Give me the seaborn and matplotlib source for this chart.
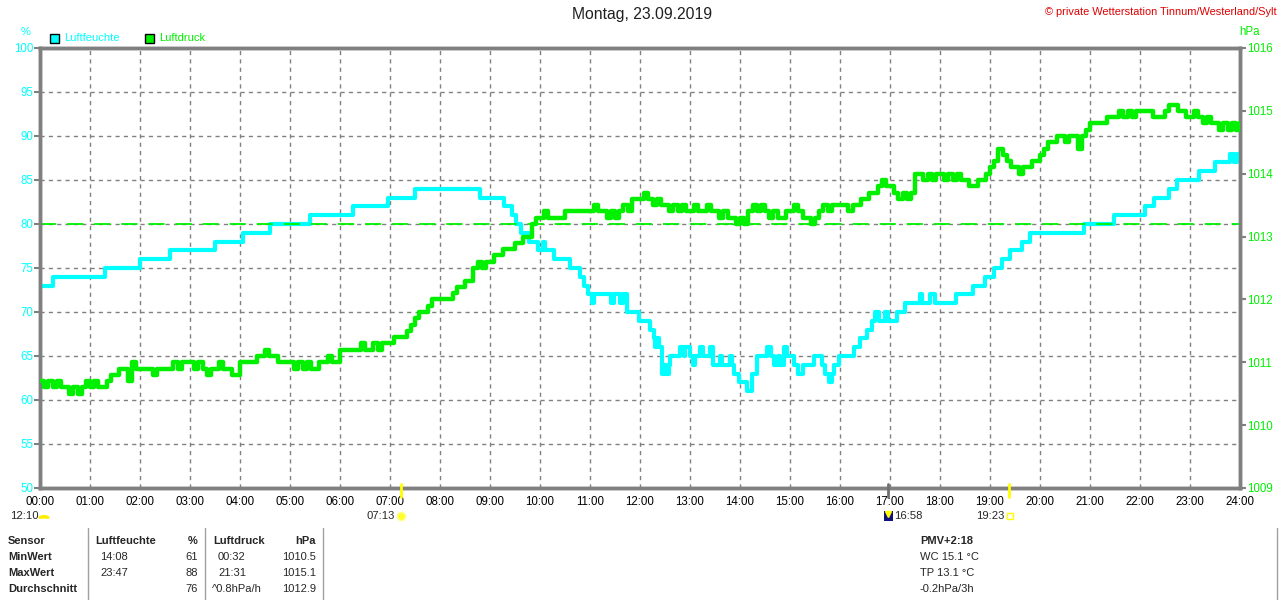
import numpy as np
import pandas as pd
import matplotlib
matplotlib.use("Agg")
import matplotlib.pyplot as plt
import seaborn as sns

# ---------------- data ----------------
hours = list(range(25))
hour_labels = [f"{h:02d}:00" for h in hours]

hum_times = [0, 0.25, 1.3, 2.0, 2.6, 3.5, 4.05, 4.6, 5.4, 6.25, 6.95, 7.5, 8.8, 9.27, 9.43,
             9.52, 9.62, 9.78, 9.95, 10.05, 10.1, 10.28, 10.6, 10.8, 10.88, 10.95, 11.03,
             11.07, 11.42, 11.47, 11.6, 11.65, 11.73, 11.97, 12.2, 12.27, 12.3, 12.33, 12.37,
             12.43, 12.48, 12.52, 12.57, 12.6, 12.8, 12.87, 12.9, 13.0, 13.05, 13.1, 13.2,
             13.25, 13.4, 13.45, 13.6, 13.63, 13.8, 13.83, 13.87, 13.97, 14.13, 14.23, 14.33,
             14.53, 14.62, 14.67, 14.75, 14.8, 14.87, 14.93, 15.07, 15.15, 15.25, 15.47,
             15.63, 15.7, 15.78, 15.83, 15.87, 15.97, 16.27, 16.4, 16.53, 16.63, 16.7, 16.77,
             16.9, 16.95, 17.13, 17.3, 17.6, 17.65, 17.8, 17.9, 18.33, 18.66, 18.9, 19.07,
             19.23, 19.4, 19.63, 19.8, 20.87, 21.47, 22.1, 22.27, 22.57, 22.73, 23.17, 23.5,
             23.8, 23.87, 23.93, 24.0]
hum_values = [73, 74, 75, 76, 77, 78, 79, 80, 81, 82, 83, 84, 83, 82, 81,
              80, 79, 78, 77, 78, 77, 76, 75, 74, 73, 72, 71,
              72, 71, 72, 71, 72, 70, 69, 68, 67, 66, 67, 66,
              63, 64, 63, 64, 65, 66, 65, 66, 65, 64, 65, 66,
              65, 66, 64, 65, 64, 65, 64, 63, 62, 61, 63, 65,
              66, 65, 64, 65, 64, 66, 65, 64, 63, 64, 65,
              64, 63, 62, 63, 64, 65, 66, 67, 68, 69, 70, 69,
              70, 69, 70, 71, 72, 71, 72, 71, 72, 73, 74, 75,
              76, 77, 78, 79, 80, 81, 82, 83, 84, 85, 86, 87,
              88, 87, 88, 88]

# pressure, 5-minute readings (hPa), 00:00 .. 24:00
press_values = [
    1010.7, 1010.6, 1010.7, 1010.6, 1010.7, 1010.6, 1010.6, 1010.5, 1010.6, 1010.5, 1010.6, 1010.7,
    1010.6, 1010.7, 1010.6, 1010.6, 1010.7, 1010.8, 1010.8, 1010.9, 1010.9, 1010.7, 1011.0, 1010.9,
    1010.9, 1010.9, 1010.9, 1010.8, 1010.9, 1010.9, 1010.9, 1010.9, 1011.0, 1010.9, 1011.0, 1011.0,
    1011.0, 1010.9, 1011.0, 1010.9, 1010.8, 1010.9, 1010.9, 1011.0, 1010.9, 1010.9, 1010.8, 1010.8,
    1011.0, 1011.0, 1011.0, 1011.0, 1011.1, 1011.1, 1011.2, 1011.1, 1011.1, 1011.0, 1011.0, 1011.0,
    1011.0, 1010.9, 1011.0, 1010.9, 1011.0, 1010.9, 1010.9, 1011.0, 1011.0, 1011.1, 1011.0, 1011.0,
    1011.2, 1011.2, 1011.2, 1011.2, 1011.2, 1011.3, 1011.2, 1011.2, 1011.3, 1011.2, 1011.3, 1011.3,
    1011.3, 1011.4, 1011.4, 1011.4, 1011.5, 1011.6, 1011.7, 1011.8, 1011.8, 1011.9, 1012.0, 1012.0,
    1012.0, 1012.0, 1012.0, 1012.1, 1012.2, 1012.2, 1012.3, 1012.3, 1012.5, 1012.6, 1012.5, 1012.6,
    1012.6, 1012.7, 1012.7, 1012.8, 1012.8, 1012.8, 1012.9, 1012.9, 1013.0, 1013.0, 1013.2, 1013.3,
    1013.3, 1013.4, 1013.3, 1013.3, 1013.3, 1013.3, 1013.4, 1013.4, 1013.4, 1013.4, 1013.4, 1013.4,
    1013.4, 1013.5, 1013.4, 1013.4, 1013.3, 1013.4, 1013.3, 1013.4, 1013.5, 1013.4, 1013.6, 1013.6,
    1013.6, 1013.7, 1013.6, 1013.5, 1013.6, 1013.5, 1013.5, 1013.4, 1013.5, 1013.4, 1013.5, 1013.4,
    1013.4, 1013.5, 1013.4, 1013.4, 1013.5, 1013.4, 1013.4, 1013.3, 1013.4, 1013.3, 1013.3, 1013.2,
    1013.3, 1013.2, 1013.4, 1013.5, 1013.4, 1013.5, 1013.4, 1013.3, 1013.4, 1013.3, 1013.3, 1013.4,
    1013.4, 1013.5, 1013.4, 1013.3, 1013.3, 1013.2, 1013.3, 1013.4, 1013.5, 1013.4, 1013.5, 1013.5,
    1013.5, 1013.5, 1013.4, 1013.5, 1013.5, 1013.6, 1013.6, 1013.7, 1013.7, 1013.8, 1013.9, 1013.8,
    1013.8, 1013.7, 1013.6, 1013.7, 1013.6, 1013.7, 1014.0, 1014.0, 1013.9, 1014.0, 1013.9, 1014.0,
    1014.0, 1013.9, 1014.0, 1013.9, 1014.0, 1013.9, 1013.9, 1013.8, 1013.8, 1013.9, 1013.9, 1014.0,
    1014.1, 1014.2, 1014.4, 1014.3, 1014.2, 1014.1, 1014.1, 1014.0, 1014.1, 1014.1, 1014.2, 1014.2,
    1014.3, 1014.4, 1014.5, 1014.5, 1014.6, 1014.6, 1014.5, 1014.6, 1014.6, 1014.4, 1014.6, 1014.7,
    1014.8, 1014.8, 1014.8, 1014.8, 1014.9, 1014.9, 1014.9, 1015.0, 1014.9, 1015.0, 1014.9, 1015.0,
    1015.0, 1015.0, 1015.0, 1014.9, 1014.9, 1014.9, 1015.0, 1015.1, 1015.1, 1015.0, 1015.0, 1014.9,
    1014.9, 1015.0, 1014.9, 1014.8, 1014.9, 1014.8, 1014.8, 1014.7, 1014.8, 1014.7, 1014.8, 1014.7,
    1014.8]
press_times = [i / 12 for i in range(len(press_values))]

reference_pressure = 1013.2

hum_ticks = [50, 55, 60, 65, 70, 75, 80, 85, 90, 95, 100]
press_ticks = [1009, 1010, 1011, 1012, 1013, 1014, 1015, 1016]

table_rows = ["Sensor", "MinWert", "MaxWert", "Durchschnitt"]
hum_col = ["", "14:08", "23:47", ""]
hum_val = ["%", "61", "88", "76"]
press_col = ["", "00:32", "21:31", "^0.8hPa/h"]
press_val = ["hPa", "1010.5", "1015.1", "1012.9"]
extra_lines = ["PMV+2:18", "WC 15.1 °C", "TP 13.1 °C", "-0.2hPa/3h"]

# ---------------- style ----------------
sns.set_style("white")
plt.rcParams['font.family'] = ['Liberation Sans', 'DejaVu Sans']
plt.rcParams['font.size'] = 8

CYAN = "#00ffff"
GREEN = "#00f000"
GRAY = "#808080"

W, H = 1280, 600
fig = plt.figure(figsize=(W / 100, H / 100), dpi=100)
L, R, T, B = 40, 1240, 48, 488
ax = fig.add_axes([L / W, 1 - B / H, (R - L) / W, (B - T) / H])
ax2 = ax.twinx()

def P(x, y):
    return (x / W, 1 - y / H)

hum_df = pd.DataFrame({"t": hum_times, "v": hum_values})
press_df = pd.DataFrame({"t": press_times, "v": press_values})

sns.lineplot(data=hum_df, x="t", y="v", ax=ax, color=CYAN, lw=3,
             drawstyle="steps-post", estimator=None, sort=False, zorder=3)
sns.lineplot(data=press_df, x="t", y="v", ax=ax2, color=GREEN, lw=3.2,
             drawstyle="steps-post", estimator=None, sort=False, zorder=3)
ax2.axhline(reference_pressure, color=GREEN, lw=1.3, dashes=(9, 6), zorder=2)

ax.set_xlim(0, 24)
ax.set_ylim(50, 100)
ax2.set_ylim(1009, 1016)
ax.set_xticks(hours)
ax.set_xticklabels(hour_labels)
ax.set_yticks(hum_ticks)
ax.set_yticklabels([str(v) for v in hum_ticks])
ax2.set_yticks(press_ticks)
ax2.set_yticklabels([str(v) for v in press_ticks])
for a in (ax, ax2):
    a.set_xlabel("")
    a.set_ylabel("")

ax.grid(True, color=GRAY, ls=(0, (3, 3)), lw=1)
ax.set_axisbelow(True)
for a in (ax, ax2):
    for s in a.spines.values():
        s.set_color(GRAY)
        s.set_linewidth(2.5)

ax.tick_params(axis="x", length=0, pad=6, labelsize=8.3, colors="black")
ax.tick_params(axis="y", length=4, width=1.5, color=GRAY, labelcolor=CYAN, pad=1, labelsize=8.3)
ax2.tick_params(axis="y", length=4, width=1.5, color=GRAY, labelcolor=GREEN, pad=1, labelsize=8.3)

# ---- texts above plot ----
fig.text(*P(642, 15), "Montag, 23.09.2019", ha="center", va="center", fontsize=11.3, color="#202020")
fig.text(*P(1277, 12), "© private Wetterstation Tinnum/Westerland/Sylt", ha="right", va="center",
         fontsize=7.9, color="#e00000")
fig.text(*P(26, 32), "%", ha="center", va="center", fontsize=8, color=CYAN)
fig.text(*P(1250, 32), "hPa", ha="center", va="center", fontsize=8.3, color=GREEN)

# legend boxes
for x0, col, lab in [(50, CYAN, "Luftfeuchte"), (145, GREEN, "Luftdruck")]:
    fig.patches.append(plt.Rectangle(P(x0, 43), 9 / W, 9 / H, transform=fig.transFigure,
                                     facecolor=col, edgecolor="black", lw=1))
    fig.text(*P(x0 + 14, 38), lab, ha="left", va="center", fontsize=8, color=col)

# ---- sun / moon markers under axis ----
def hx(h):
    return L + h * (R - L) / 24

for h, c in [(7 + 13 / 60, "#ffff00"), (19 + 23 / 60, "#ffff00"), (16 + 58 / 60, "#707070")]:
    fig.add_artist(plt.Line2D([hx(h) / W] * 2, [1 - 484 / H, 1 - 497 / H], color=c, lw=2,
                              transform=fig.transFigure))
ROW2 = 516
fig.text(*P(10, ROW2), "12:10", ha="left", va="center", fontsize=8.1)
fig.patches.append(matplotlib.patches.Wedge(P(44, ROW2 + 2), 5 / W, 0, 180, transform=fig.transFigure,
                                            color="#ffee00"))
fig.text(*P(395, ROW2), "07:13", ha="right", va="center", fontsize=8.1)
fig.add_artist(plt.Line2D([401 / W], [1 - ROW2 / H], marker="o", ms=6, color="#ffff30",
                          markeredgecolor="#ffff90", transform=fig.transFigure))
fig.text(*P(1004, ROW2), "19:23", ha="right", va="center", fontsize=8.1)
fig.add_artist(plt.Line2D([1010 / W], [1 - ROW2 / H], marker="s", ms=5, color="none",
                          markeredgecolor="#ffff00", transform=fig.transFigure))
fig.patches.append(plt.Rectangle(P(884, ROW2 + 5), 9 / W, 10 / H, transform=fig.transFigure,
                                 facecolor="#101080", edgecolor="none"))
fig.add_artist(plt.Line2D([888 / W], [1 - (ROW2 - 2) / H], marker="v", ms=5, color="#ffff00",
                          transform=fig.transFigure))
fig.text(*P(894, ROW2), "16:58", ha="left", va="center", fontsize=8.1)

# ---- table ----
ys = [541, 557, 573, 589]
for xline in [88, 205, 323, 1277]:
    fig.add_artist(plt.Line2D([xline / W] * 2, [1 - 528 / H, 0], color="#a0a0a0", lw=1,
                              transform=fig.transFigure))
for i, y in enumerate(ys):
    fig.text(*P(8, y), table_rows[i], ha="left", va="center", fontsize=8, fontweight="bold")
    if i == 0:
        fig.text(*P(95, y), "Luftfeuchte", ha="left", va="center", fontsize=8, fontweight="bold")
        fig.text(*P(198, y), hum_val[i], ha="right", va="center", fontsize=8, fontweight="bold")
        fig.text(*P(213, y), "Luftdruck", ha="left", va="center", fontsize=8, fontweight="bold")
        fig.text(*P(316, y), press_val[i], ha="right", va="center", fontsize=8, fontweight="bold")
        fig.text(*P(920, y), extra_lines[i], ha="left", va="center", fontsize=8, fontweight="bold")
    else:
        fig.text(*P(100, y), hum_col[i], ha="left", va="center", fontsize=8)
        fig.text(*P(198, y), hum_val[i], ha="right", va="center", fontsize=8)
        fig.text(*P(218 if i < 3 else 212, y), press_col[i], ha="left", va="center", fontsize=8)
        fig.text(*P(316, y), press_val[i], ha="right", va="center", fontsize=8)
        fig.text(*P(920, y), extra_lines[i], ha="left", va="center", fontsize=8)

fig.savefig("out.png", dpi=100, facecolor="white")
